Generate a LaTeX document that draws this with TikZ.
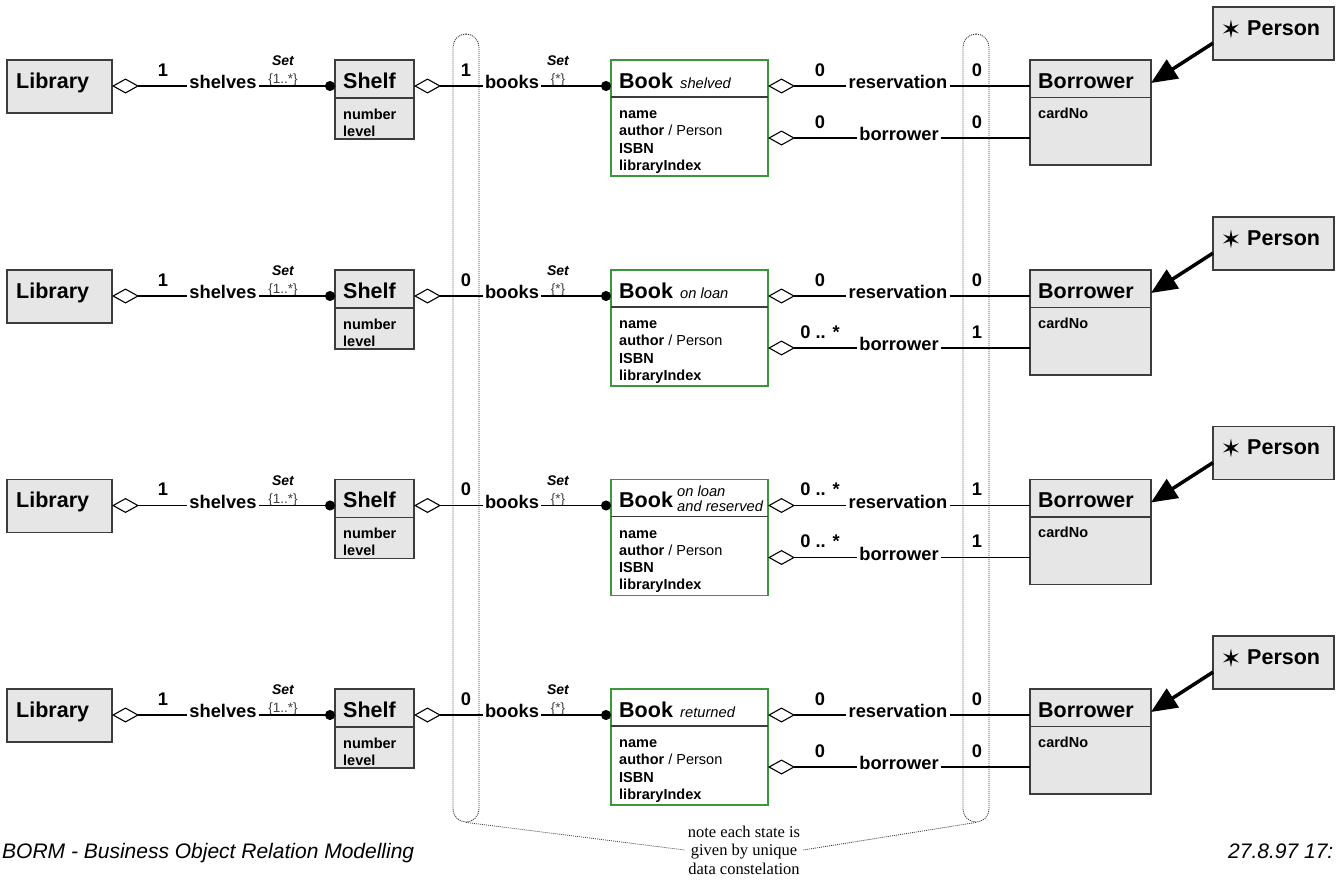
\documentclass[tikz,border=0pt]{standalone}
\usepackage{fontspec}
\setmainfont{Liberation Sans}
\newfontfamily\notefont{Liberation Serif}
\newfontfamily\symbolfont{DejaVu Sans}
\usetikzlibrary{arrows.meta}

\definecolor{boxfill}{HTML}{E6E6E6}
\definecolor{boxline}{HTML}{3C3C3C}
\definecolor{bookline}{HTML}{3A983A}
\definecolor{pillline}{HTML}{3A3A3A}

\tikzset{
  umlbox/.style={draw=boxline, fill=boxfill, line width=1.3pt, anchor=north west, inner sep=0pt, outer sep=0pt},
  bookbox/.style={umlbox, draw=bookline, fill=white},
  divline/.style={draw=boxline, line width=1.3pt},
  classname/.style={font=\bfseries\fontsize{21.5}{24}\selectfont, anchor=base west, inner sep=0pt},
  attrtext/.style={font=\bfseries\fontsize{14.5}{17}\selectfont, anchor=base west, inner sep=0pt},
  statetext/.style={font=\itshape\fontsize{14.7}{15}\selectfont, anchor=base west, inner sep=0pt},
  rolename/.style={font=\bfseries\fontsize{18.3}{20}\selectfont, anchor=mid, inner sep=2pt},
  multtext/.style={font=\bfseries\fontsize{18.3}{20}\selectfont, inner sep=0pt},
  settext/.style={font=\bfseries\itshape\fontsize{14}{16}\selectfont, inner sep=0pt},
  rangetext/.style={font=\fontsize{13.5}{15}\selectfont, text=black!75, inner sep=0pt},
  conn/.style={draw=black, line width=1.1pt},
  pill/.style={draw=pillline, line width=0.9pt, dash pattern=on 1pt off 1pt,
    rounded corners=13pt, minimum width=26pt, minimum height=788pt, inner sep=0pt},
  notelink/.style={draw=pillline, line width=0.8pt, dash pattern=on 1pt off 1pt},
  aggr/.tip={Diamond[open, length=27pt, width=15pt]},
  navdot/.tip={Circle[length=10pt]},
  spectip/.tip={Triangle[length=26pt, width=22pt]},
}

% One object-state row: #1 vertical offset, #2 name suffix, #3 books multiplicity,
% #4/#5 reservation multiplicities, #6/#7 borrower multiplicities,
% #8 state text of the book, #9 position of that state text
\newcommand\BormRow[9]{%
\begin{scope}[shift={(0,#1)}]
  % Library
  \node[umlbox, minimum width=105pt, minimum height=53pt] (lib#2) at (7,60) {};
  \node[classname] (libt#2) at (16,88) {Library};
  % Shelf
  \node[umlbox, minimum width=79pt, minimum height=79pt] (shelf#2) at (335,60) {};
  \draw[divline] (335,98) -- (414,98);
  \node[classname] (shelft#2) at (343,88) {Shelf};
  \node[attrtext] (shelfa#2) at (343,119) {number};
  \node[attrtext] (shelfb#2) at (343,136) {level};
  % Book
  \node[bookbox, minimum width=157pt, minimum height=116pt] (book#2) at (611,60) {};
  \draw[divline] (611,97) -- (768,97);
  \node[classname] (bookt#2) at (619,88) {Book};
  \node[statetext] (bookst#2) at (#9) {#8};
  \node[attrtext] (booka#2) at (619,118.5) {name};
  \node[attrtext] (bookb#2) at (619,135.8) {author {\mdseries / Person}};
  \node[attrtext] (bookc#2) at (619,153.1) {ISBN};
  \node[attrtext] (bookd#2) at (619,170.4) {libraryIndex};
  % Borrower
  \node[umlbox, minimum width=121pt, minimum height=105pt] (bor#2) at (1030,60) {};
  \draw[divline] (1030,97.5) -- (1151,97.5);
  \node[classname] (bort#2) at (1038,88) {Borrower};
  \node[attrtext] (bora#2) at (1038,118) {cardNo};
  % Person
  \node[umlbox, minimum width=121pt, minimum height=53pt] (per#2) at (1213,7) {};
  \node[font=\symbolfont\fontsize{25}{27}\selectfont, inner sep=0pt] (perstar#2) at (1231,29) {✶};
  \node[classname] (pert#2) at (1247,35) {Person};
  % Library -- shelves -- Shelf
  \node[rolename] (shv#2) at (223,86) {shelves};
  \node[multtext] (shvm#2) at (163,70) {1};
  \node[settext] (shvs#2) at (283,61) {Set};
  \node[rangetext] (shvr#2) at (283,80) {\{1..*\}};
  \draw[conn, aggr-] (shv#2.mid west -| lib#2.east) -- (shv#2.mid west);
  \draw[conn, -navdot] (shv#2.mid east) -- (shv#2.mid east -| shelf#2.west);
  % Shelf -- books -- Book
  \node[rolename] (bks#2) at (512,86) {books};
  \node[multtext] (bksm#2) at (466,70) {#3};
  \node[settext] (bkss#2) at (558,61) {Set};
  \node[rangetext] (bksr#2) at (558,80) {\{*\}};
  \draw[conn, aggr-] (bks#2.mid west -| shelf#2.east) -- (bks#2.mid west);
  \draw[conn, -navdot] (bks#2.mid east) -- (bks#2.mid east -| book#2.west);
  % Book -- reservation -- Borrower
  \node[rolename] (res#2) at (898,86) {reservation};
  \node[multtext] (resm#2) at (820,70) {#4};
  \node[multtext] (resn#2) at (977,70) {#5};
  \draw[conn, aggr-] (res#2.mid west -| book#2.east) -- (res#2.mid west);
  \draw[conn] (res#2.mid east) -- (res#2.mid east -| bor#2.west);
  % Book -- borrower -- Borrower
  \node[rolename] (brw#2) at (899,138) {borrower};
  \node[multtext] (brwm#2) at (820,122) {#6};
  \node[multtext] (brwn#2) at (977,122) {#7};
  \draw[conn, aggr-] (brw#2.mid west -| book#2.east) -- (brw#2.mid west);
  \draw[conn] (brw#2.mid east) -- (brw#2.mid east -| bor#2.west);
  % Person specialises into Borrower
  \draw[line width=3.5pt, -spectip] (per#2.189) -- (bor#2.26);
\end{scope}}

\begin{document}
\begin{tikzpicture}[x=1pt, y=-1pt]
  \useasboundingbox (0,0) rectangle (1337,881);
  \fill[white] (0,0) rectangle (1337,881);

  % state brackets
  \node[pill] (pillL) at (466,428) {};
  \node[pill] (pillR) at (976,428) {};

  \BormRow{0}{a}{1}{0}{0}{0}{0}{shelved}{680,88}
  \BormRow{210}{b}{0}{0}{0}{0 .. *}{1}{on loan}{680,88}
  \BormRow{419.5}{c}{0}{0 .. *}{1}{0 .. *}{1}{\begin{tabular}[b]{@{}l@{}}on loan\\and reserved\end{tabular}}{677,92}
  \BormRow{629}{d}{0}{0}{0}{0}{0}{returned}{680,88}

  % note
  \node[font=\notefont\fontsize{16.5}{18.5}\selectfont, align=center, inner sep=3pt] (note) at (744,850)
    {note each state is\\given by unique\\data constelation};
  \draw[notelink] (pillL.south) -- (note.west);
  \draw[notelink] (note.east) -- (pillR.south);

  % footer
  \node[font=\itshape\fontsize{21}{24}\selectfont, anchor=base west, inner sep=0pt] (footl) at (2,858)
    {BORM - Business Object Relation Modelling};
  \node[font=\itshape\fontsize{21}{24}\selectfont, anchor=base west, inner sep=0pt] (footr) at (1228,858)
    {27.8.97 17:};
\end{tikzpicture}
\end{document}
